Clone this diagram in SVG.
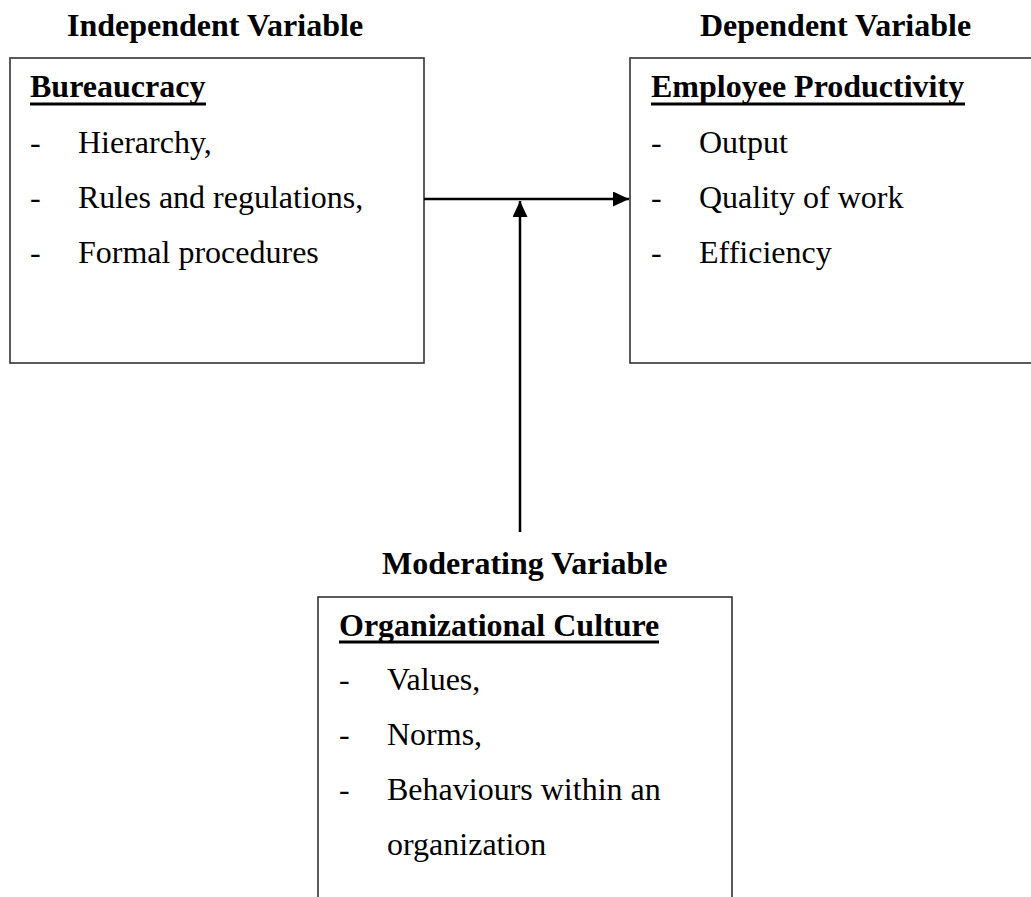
<svg xmlns="http://www.w3.org/2000/svg" width="1031" height="897" viewBox="0 0 1031 897">
<style>
.box{fill:#fff;stroke:#333;stroke-width:1.6}
.hd{font-family:"Liberation Serif","Times New Roman",serif;font-weight:bold;font-size:32px;fill:#000}
.it{font-family:"Liberation Serif","Times New Roman",serif;font-size:32px;fill:#000}
.ul{stroke:#000;stroke-width:3}
.conn{stroke:#000;stroke-width:2.5;fill:none}
</style>
<defs>
<marker id="arr" markerUnits="userSpaceOnUse" markerWidth="17" markerHeight="16" refX="16" refY="7.5" orient="auto">
<path d="M0,0 L16,7.5 L0,15 z" fill="#000"/>
</marker>
</defs>
<rect width="1031" height="897" fill="#fff"/>
<g id="independent">
<text class="hd" x="67" y="36">Independent Variable</text>
<rect class="box" x="10" y="58" width="414" height="305"/>
<text class="hd" x="30" y="97">Bureaucracy</text>
<line class="ul" x1="30" y1="104" x2="206" y2="104"/>
<text class="it" x="30" y="153">-</text><text class="it" x="78" y="153">Hierarchy,</text>
<text class="it" x="30" y="208">-</text><text class="it" x="78" y="208">Rules and regulations,</text>
<text class="it" x="30" y="263">-</text><text class="it" x="78" y="263">Formal procedures</text>
</g>
<g id="dependent">
<text class="hd" x="700" y="36">Dependent Variable</text>
<rect class="box" x="630" y="58" width="410" height="305"/>
<text class="hd" x="651" y="97">Employee Productivity</text>
<line class="ul" x1="651" y1="104" x2="965" y2="104"/>
<text class="it" x="651" y="153">-</text><text class="it" x="699" y="153">Output</text>
<text class="it" x="651" y="208">-</text><text class="it" x="699" y="208">Quality of work</text>
<text class="it" x="651" y="263">-</text><text class="it" x="699" y="263">Efficiency</text>
</g>
<g id="moderating">
<text class="hd" x="382" y="574">Moderating Variable</text>
<rect class="box" x="318" y="597" width="414" height="320"/>
<text class="hd" x="339" y="636">Organizational Culture</text>
<line class="ul" x1="339" y1="642" x2="659" y2="642"/>
<text class="it" x="339" y="690">-</text><text class="it" x="387" y="690">Values,</text>
<text class="it" x="339" y="745">-</text><text class="it" x="387" y="745">Norms,</text>
<text class="it" x="339" y="800">-</text><text class="it" x="387" y="800">Behaviours within an</text>
<text class="it" x="387" y="855">organization</text>
</g>
<g id="connectors">
<line class="conn" x1="424" y1="199" x2="629" y2="199" marker-end="url(#arr)"/>
<line class="conn" x1="520" y1="532" x2="520" y2="201" marker-end="url(#arr)"/>
</g>
</svg>
